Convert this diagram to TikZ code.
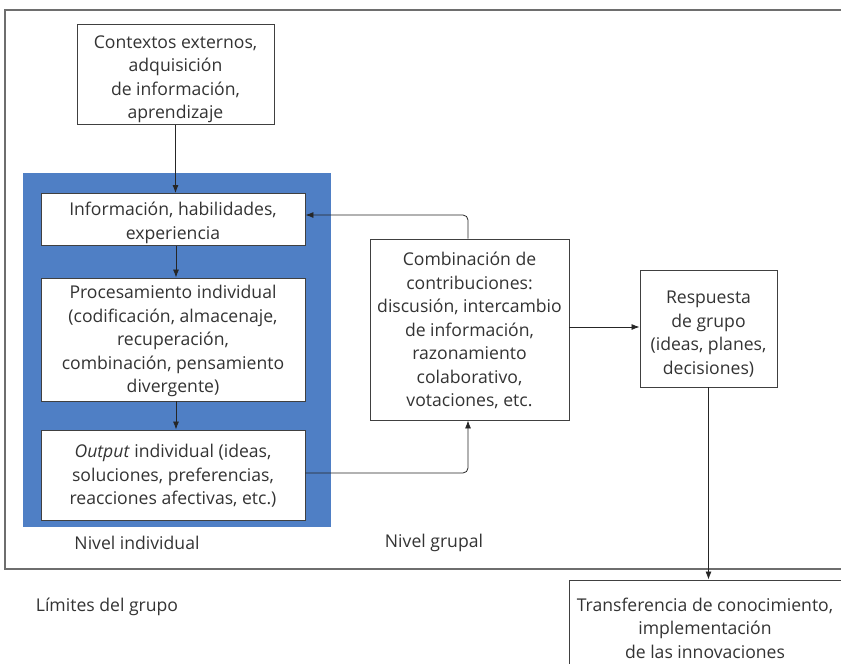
\documentclass[tikz,border=0pt]{standalone}
\usepackage{fontspec}
\setmainfont{Open Sans}
\usetikzlibrary{arrows.meta}
\definecolor{bluebg}{RGB}{79,127,197}
\definecolor{txt}{RGB}{51,51,51}
\definecolor{frame}{RGB}{110,110,110}
\begin{document}
\begin{tikzpicture}[x=1pt,y=-1pt,
  every node/.style={font=\fontsize{17.6}{23.5}\selectfont, text=txt},
  box/.style={draw=black!75, line width=0.9pt, fill=white, inner sep=0pt},
  boxtxt/.style={align=center, inner sep=0pt},
  lbl/.style={inner sep=0pt},
  conn/.style={line width=0.8pt, draw=black!85, -{Latex[length=8pt,width=6pt]}},
  link/.style={conn, rounded corners=5pt}]
\useasboundingbox (0,0) rectangle (841,664);
\draw[frame, line width=1.4pt] (850,10) -- (5,10) -- (5,569) -- (850,569);
\fill[bluebg] (23,173) rectangle (331,527);
\node[box, minimum width=197pt, minimum height=100pt] (ctx) at (175.5,74.5) {};
\node[boxtxt] (ctx-t) at ([yshift=-4.5pt]ctx.center) {Contextos externos,\\adquisición\\de información,\\aprendizaje};
\node[box, minimum width=264pt, minimum height=52pt] (info) at (173,219.5) {};
\node[boxtxt] (info-t) at ([yshift=-3.5pt]info.center) {Información, habilidades,\\experiencia};
\node[box, minimum width=264pt, minimum height=123pt] (proc) at (173,339.5) {};
\node[boxtxt] (proc-t) at ([yshift=-1.5pt]proc.center) {Procesamiento individual\\(codificación, almacenaje,\\recuperación,\\combinación, pensamiento\\divergente)};
\node[box, minimum width=264pt, minimum height=90pt] (out) at (173,475) {};
\node[boxtxt] (out-t) at ([yshift=-1pt]out.center) {\textit{Output} individual (ideas,\\soluciones, preferencias,\\reacciones afectivas, etc.)};
\node[box, minimum width=199pt, minimum height=181pt] (comb) at (469.5,329.5) {};
\node[boxtxt] (comb-t) at ([yshift=-1pt]comb.center) {Combinación de\\contribuciones:\\discusión, intercambio\\de información,\\razonamiento\\colaborativo,\\votaciones, etc.};
\node[box, minimum width=137pt, minimum height=117pt] (resp) at (708.5,328.5) {};
\node[boxtxt] (resp-t) at ([yshift=-5.5pt]resp.center) {Respuesta\\de grupo\\(ideas, planes,\\decisiones)};
\node[box, minimum width=280pt, minimum height=96pt] (trans) at (709,628) {};
\node[boxtxt] (trans-t) at (705,628) {Transferencia de conocimiento,\\implementación\\de las innovaciones};
\node[lbl] (nind) at (137,543) {Nivel individual};
\node[lbl] (ngr) at (434,543) {Nivel grupal};
\node[lbl] (lim) at (107,607) {Límites del grupo};
\draw[conn] (ctx.south) -- (info.north -| ctx.south);
\draw[conn] (info.south -| 176,0) -- (proc.north -| 176,0);
\draw[conn] (proc.south -| 176,0) -- (out.north -| 176,0);
\draw[link] (comb.north -| 468,0) |- (info.east |- 0,215);
\draw[link] (out.east |- 0,473) -| (comb.south -| 468,0);
\draw[conn] (comb.east |- 0,327) -- (resp.west |- 0,327);
\draw[conn] (resp.south) -- (trans.north -| resp.south);
\end{tikzpicture}
\end{document}
